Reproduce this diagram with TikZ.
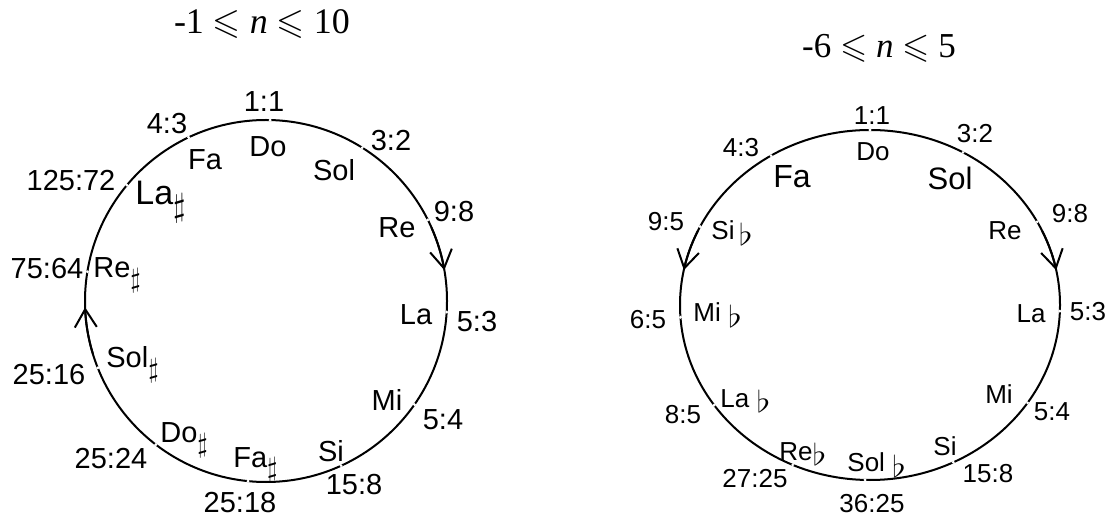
\documentclass[tikz,border=0pt]{standalone}
\usepackage{amssymb}
\usepackage{graphicx}
\usepackage{fontspec}
\setmainfont{Liberation Sans}
\newfontfamily\titlefont{Liberation Serif}
\usetikzlibrary{arrows.meta, calc}

\newcommand{\diesis}{\raisebox{-0.33em}{\scalebox{0.95}{$\sharp$}}}
\newcommand{\bemolle}{\raisebox{-0.22em}{\scalebox{1.5}[1.25]{$\flat$}}}

\begin{document}
\begin{tikzpicture}[x=0.5pt, y=0.5pt, >={Straight Barb[length=9pt,width=11pt]},
    lab/.style={inner sep=0pt},
    sx/.style={lab, font=\fontsize{14.5}{17}\selectfont},
    dx/.style={lab, font=\fontsize{13}{15}\selectfont},
    acc/.style={anchor=base west}]
\useasboundingbox (0,0) rectangle (1112,519);

% Titoli
\node[lab, font=\titlefont\fontsize{18}{20}\selectfont] (tsx) at (262,495) {-1 $\leqslant$ \textit{n} $\leqslant$ 10};
\node[lab, font=\titlefont\fontsize{17.5}{20}\selectfont] (tdx) at (879,471) {-6 $\leqslant$ \textit{n} $\leqslant$ 5};

% Cerchio sinistro
\coordinate (Lc) at (266,218);
\draw[line width=1pt] (Lc) circle[radius=90.5pt];
\foreach \a in {88.7,115.3,140.2,170.7,201.7,232.5,264.3,294.5,325.1,356.5,26.6,57.9}
  \fill[white] ($(Lc)+(\a:181)$) circle[radius=0.8pt];
\draw[->, line width=1pt] ($(Lc)+(24:181)$) arc[start angle=24, end angle=9.8, radius=90.5pt];
\draw[->, line width=1pt] ($(Lc)+(197:181)$) arc[start angle=197, end angle=182, radius=90.5pt];

\node[sx] (Lr1) at (264,417) {1:1};
\node[sx] (Ldo) at (268,372) {Do};
\node[sx] (Lr43) at (167,395) {4:3};
\node[sx] (Lfa) at (205,359) {Fa};
\node[sx] (Lr12572) at (71,338) {125:72};
\node[sx, acc, font=\fontsize{17}{20}\selectfont] (Llad) at (135,314) {La\diesis};
\node[sx] (Lr7564) at (47,250) {75:64};
\node[sx, acc] (Lred) at (93,241) {Re\diesis};
\node[sx, acc] (Lsold) at (106,151) {Sol\diesis};
\node[sx] (Lr2516) at (49,144) {25:16};
\node[sx, acc] (Ldod) at (160,76) {Do\diesis};
\node[sx] (Lr2524) at (111,60) {25:24};
\node[sx, acc] (Lfad) at (233,52) {Fa\diesis};
\node[sx] (Lr2518) at (240,16) {25:18};
\node[sx] (Lla) at (416,204) {La};
\node[sx] (Lr53) at (477,197) {5:3};
\node[sx] (Lmi) at (387,119) {Mi};
\node[sx] (Lr54) at (443,99) {5:4};
\node[sx] (Lsi) at (331,68) {Si};
\node[sx] (Lr158) at (354,34) {15:8};
\node[sx] (Lsol) at (334,349) {Sol};
\node[sx] (Lr32) at (391,378) {3:2};
\node[sx] (Lre) at (397,291) {Re};
\node[sx] (Lr98) at (454,307) {9:8};

% Cerchio destro
\coordinate (Rc) at (870,214);
\draw[line width=1pt] (Rc) ellipse[x radius=95pt, y radius=87.5pt];
\foreach \a in {90,121.4,153.4,184,214.9,246,268.5,296,326,358,28.4,60.7}
  \fill[white] ($(Rc)+(\a:190 and 175)$) circle[radius=0.8pt];
\draw[->, line width=1pt] ($(Rc)+(25:190 and 175)$) arc[start angle=25, end angle=11.5, x radius=95pt, y radius=87.5pt];
\draw[->, line width=1pt] ($(Rc)+(155:190 and 175)$) arc[start angle=155, end angle=168.5, x radius=95pt, y radius=87.5pt];

\node[dx] (Rr1) at (872,403) {1:1};
\node[dx] (Rdo) at (873,367) {Do};
\node[dx] (Rr43) at (741,371) {4:3};
\node[dx, font=\fontsize{16}{19}\selectfont] (Rfa) at (792,342) {Fa};
\node[dx] (Rr95) at (666,297) {9:5};
\node[dx, acc] (Rsib) at (711,279) {Si\,\bemolle};
\node[dx] (Rr32) at (975,385) {3:2};
\node[dx, font=\fontsize{15.5}{18}\selectfont] (Rsol) at (950,341) {Sol};
\node[dx] (Rr98) at (1070,305) {9:8};
\node[dx] (Rre) at (1005,288) {Re};
\node[dx] (Rr65) at (648,199) {6:5};
\node[dx, acc] (Rmib) at (693,197) {Mi\ \bemolle};
\node[dx, acc] (Rlab) at (720,112) {La\ \bemolle};
\node[dx] (Rr85) at (683,104) {8:5};
\node[dx, acc] (Rreb) at (779,59) {Re\bemolle};
\node[dx] (Rr2725) at (755,40) {27:25};
\node[dx, acc] (Rsolb) at (847,47) {Sol\ \bemolle};
\node[dx] (Rr3625) at (872,15) {36:25};
\node[dx] (Rla) at (1031,205) {La};
\node[dx] (Rr53) at (1088,207) {5:3};
\node[dx] (Rmi) at (999,125) {Mi};
\node[dx] (Rr54) at (1052,107) {5:4};
\node[dx] (Rsi) at (945,73) {Si};
\node[dx] (Rr158) at (988,45) {15:8};
\end{tikzpicture}
\end{document}
